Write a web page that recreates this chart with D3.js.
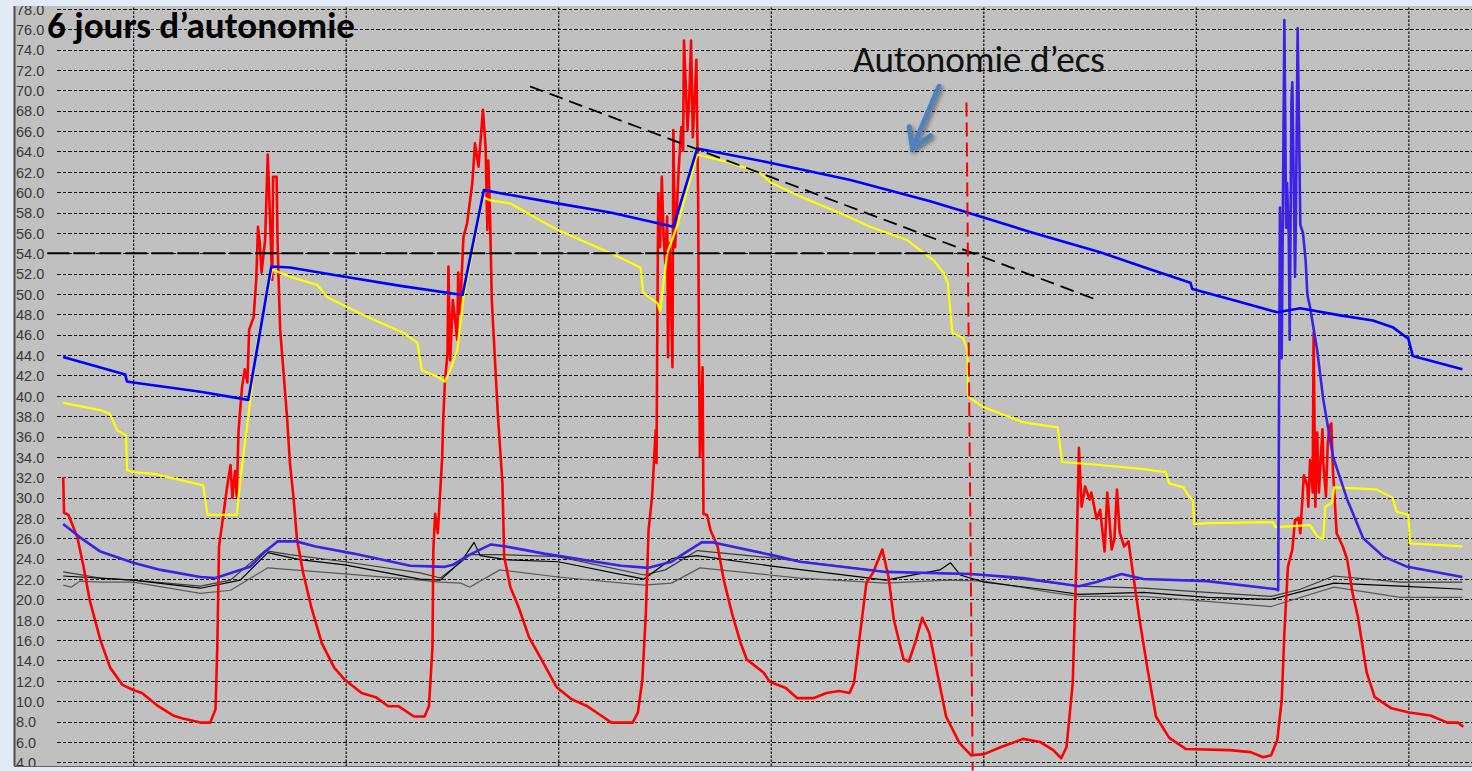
<!DOCTYPE html>
<html><head><meta charset="utf-8">
<script src="https://cdn.jsdelivr.net/npm/d3@7"></script>
<style>
html,body{margin:0;padding:0;background:#e2ebf5;}
svg{display:block;}
</style></head><body>
<svg id="chart" width="1472" height="771"></svg>
<script>
// Time axis: hours counted from the first midnight shown; values in °C.
const tempTicks = d3.range(4, 79, 2);
const midnights = [0, 24, 48, 72, 96, 120, 144];

// Top of the DHW tank
const tankTop = [[-7.9,43.8],[-0.9,42.1],[-0.7,41.4],[0,41.3],[7.6,40.4],[13.0,39.6],[15.6,52.7],[17.7,52.6],[23.9,51.7],[30.2,50.8],[37.2,49.9],[39.6,60.2],[41.5,59.9],[47.9,58.9],[53.9,58.0],[61.0,56.6],[63.7,64.3],[71.9,62.9],[81.0,61.2],[90.0,59.1],[94.2,58.0],[101.3,56.1],[109.2,54.1],[114.9,52.4],[119.4,51.1],[119.6,50.5],[124.2,49.4],[129.2,48.2],[131.8,48.6],[136.3,47.9],[140.0,47.4],[142.3,46.7],[144.0,45.6],[144.5,43.9],[150.1,42.6]];

// Bottom of the DHW tank
const tankBottom = [[-7.9,27.4],[-6.0,26.1],[-3.7,24.7],[0,23.6],[3.1,22.9],[7.6,22.2],[9.3,22.1],[13.2,23.2],[14.9,24.7],[16.3,25.7],[18.4,25.7],[20.6,25.2],[24.9,24.5],[31.3,23.3],[35.2,23.2],[36.1,23.4],[37.8,24.3],[40.4,25.4],[42.1,25.2],[46.4,24.5],[55.1,23.3],[58.2,23.1],[60.8,23.7],[62.0,24.4],[64.2,25.6],[65.5,25.6],[72.4,24.3],[75.3,23.7],[85.0,22.7],[94.6,22.5],[100.5,22.1],[106.8,21.3],[108.8,21.7],[111.6,22.5],[114.1,22.0],[121.3,21.8],[129.1,21.0],[129.3,20.9],[129.5,58.5],[129.7,43.7],[130.0,76.9],[130.2,56.5],[130.3,60.9],[130.5,55.5],[130.6,45.5],[130.8,69.1],[130.9,70.8],[131.2,51.7],[131.3,57.3],[131.5,76.1],[131.8,56.8],[132.1,56.0],[132.4,53.3],[132.6,49.9],[132.9,48.7],[133.7,44.5],[134.4,39.6],[135.5,34.0],[137.1,29.8],[138.9,26.0],[141.2,24.2],[143.9,23.2],[150.1,22.2]];

// Middle of the DHW tank
const tankMiddle = [[-7.9,39.3],[-3.7,38.6],[-2.6,38.2],[-1.8,36.6],[-0.8,36.1],[-0.7,32.7],[0,32.5],[2.5,32.3],[7.9,31.2],[8.4,28.3],[11.7,28.3],[12.1,31.7],[12.9,37.3],[14.0,45.2],[15.7,52.4],[17.7,51.7],[20.8,50.9],[21.9,49.7],[24.2,48.7],[27.1,47.5],[30.5,46.2],[32.1,45.2],[32.6,42.5],[34.3,41.9],[35.2,41.4],[35.8,42.5],[36.6,44.5],[37.3,49.7],[39.5,59.5],[40.3,59.2],[42.6,58.9],[43.4,58.5],[47.9,56.3],[54.2,53.9],[57.3,52.6],[57.6,50.1],[59.2,49.1],[59.5,48.3],[60.3,54.0],[61.4,56.6],[63.7,63.7],[67.4,62.9],[70.8,61.9],[71.9,61.0],[75.0,59.7],[80.2,57.8],[83.2,56.6],[87.4,55.3],[89.2,54.1],[90.4,53.3],[91.5,52.1],[92.0,51.1],[92.5,46.2],[93.7,45.7],[94.2,44.5],[94.3,39.9],[96.0,38.9],[100.5,37.4],[104.4,36.9],[104.9,33.5],[109.2,33.2],[114.1,32.8],[116.6,32.5],[117.0,31.4],[118.6,31.0],[119.0,30.4],[119.7,29.7],[119.8,27.4],[121.3,27.5],[128.7,27.6],[129.0,27.1],[132.9,27.3],[133.8,26.1],[134.4,26.0],[134.6,29.1],[135.4,29.5],[135.6,31.0],[140.4,30.8],[142.2,30.0],[142.7,28.6],[144.0,28.3],[144.2,25.5],[150.1,25.2]];

// Solar collector
const collector = [[-7.9,32.0],[-7.8,28.5],[-7.3,28.3],[-6.3,26.1],[-5.6,23.2],[-4.9,19.9],[-3.7,16.0],[-2.6,13.3],[-1.2,11.6],[0,11.1],[1.0,10.8],[2.7,9.6],[4.5,8.6],[5.6,8.3],[7.6,7.9],[8.7,7.9],[9.3,9.2],[9.5,15.3],[9.7,25.2],[10.2,28.4],[10.6,31.0],[11.0,33.2],[11.2,30.0],[11.5,32.6],[11.7,30.1],[11.9,36.6],[12.3,40.9],[12.6,42.6],[12.9,41.3],[13.1,46.5],[13.6,47.7],[13.9,51.4],[14.1,56.6],[14.3,55.0],[14.5,52.1],[14.9,55.3],[15.2,63.7],[15.5,56.3],[15.7,51.4],[15.8,61.5],[16.2,61.5],[16.3,55.6],[16.4,52.1],[16.6,46.5],[16.9,43.2],[17.4,37.6],[17.7,33.4],[18.1,30.1],[18.5,25.9],[19.2,22.6],[20.1,19.3],[21.3,15.7],[22.7,13.3],[23.9,12.1],[25.8,10.8],[27.4,10.4],[28.8,9.5],[30.0,9.5],[31.7,8.5],[32.9,8.5],[33.4,9.5],[33.8,15.3],[33.9,24.9],[34.1,28.4],[34.4,26.5],[34.9,34.0],[35.0,37.3],[35.2,41.3],[35.5,44.2],[35.6,52.7],[35.8,43.5],[36.1,49.4],[36.6,45.5],[36.7,52.1],[36.9,48.1],[37.3,55.6],[37.7,56.9],[38.3,60.9],[38.6,64.8],[39.0,62.5],[39.5,68.1],[39.8,64.4],[40.0,56.3],[40.1,63.1],[40.3,57.6],[40.5,49.4],[40.9,42.8],[41.2,37.9],[41.7,31.4],[41.9,24.2],[42.6,21.2],[43.5,19.3],[44.7,16.3],[46.1,14.1],[47.8,11.4],[49.5,10.2],[51.3,9.5],[53.0,8.5],[54.0,7.9],[56.4,7.9],[57.0,8.9],[57.5,12.1],[57.9,18.7],[58.2,26.8],[58.6,30.1],[59.0,36.6],[59.1,33.4],[59.2,48.1],[59.3,59.9],[59.5,54.6],[59.7,61.5],[59.9,55.6],[60.1,53.0],[60.3,57.6],[60.4,43.8],[60.6,55.0],[60.9,42.8],[61.0,66.1],[61.2,54.6],[61.6,62.2],[61.9,66.4],[62.1,64.1],[62.2,74.9],[62.6,66.1],[62.8,69.3],[63.0,74.9],[63.2,65.4],[63.6,73.0],[63.8,59.5],[63.9,43.2],[64.0,34.0],[64.3,42.8],[64.4,28.4],[64.8,28.3],[65.2,26.8],[66.0,25.2],[66.7,21.9],[67.6,18.7],[68.6,15.7],[69.3,14.1],[71.2,12.8],[71.9,11.9],[73.7,11.3],[75.0,10.3],[76.8,10.3],[78.3,10.8],[79.7,11.0],[80.9,10.8],[81.4,11.8],[82.1,16.7],[82.8,21.6],[83.6,22.7],[84.0,23.6],[84.6,24.9],[85.3,22.2],[85.9,18.0],[87.0,14.1],[87.6,13.9],[88.4,16.0],[89.1,18.2],[89.9,16.7],[90.8,12.8],[91.8,8.5],[93.3,5.9],[94.6,4.7],[96.1,4.8],[98.0,5.5],[100.5,6.3],[102.4,6.0],[103.9,5.2],[104.8,4.4],[105.4,5.5],[106.1,11.8],[106.5,23.2],[106.8,34.9],[107.1,29.1],[107.5,31.1],[108.0,29.8],[108.2,30.5],[108.8,27.9],[109.2,28.8],[109.7,24.7],[110.0,30.5],[110.5,24.9],[110.8,25.9],[111.1,30.8],[111.4,26.6],[111.9,25.2],[112.4,25.7],[112.8,23.2],[113.6,18.3],[114.5,13.4],[115.5,8.5],[117.0,6.4],[118.9,5.3],[123.8,5.2],[126.2,5.0],[127.6,4.5],[128.5,4.7],[129.2,6.2],[129.7,10.1],[130.0,16.7],[130.4,23.2],[130.9,24.9],[131.2,27.8],[131.6,28.0],[131.8,26.5],[132.2,32.2],[132.6,31.1],[132.7,29.1],[132.9,33.7],[133.2,30.5],[133.3,46.2],[133.5,29.1],[133.7,36.4],[133.9,30.5],[134.3,36.7],[134.4,33.4],[134.7,30.1],[134.9,35.4],[135.1,37.0],[135.3,37.3],[135.5,32.4],[135.6,31.1],[135.9,26.5],[136.6,25.2],[137.1,23.9],[137.7,20.6],[138.3,18.3],[139.3,12.8],[140.2,10.4],[142.1,9.3],[144.1,8.9],[146.5,8.6],[148.4,7.9],[149.6,7.9],[150.2,7.5]];

// Indoor temperatures
const room1 = [[-7.9,22.3],[0,21.9],[7.6,21.1],[12.1,21.9],[15.2,24.6],[18.8,23.9],[23.9,23.4],[32.4,22.0],[34.7,21.9],[37.2,23.9],[38.5,25.6],[39.2,24.3],[42.1,23.9],[48.0,23.7],[57.7,22.0],[60.8,24.0],[63.7,24.3],[71.9,23.3],[85.0,21.9],[91.1,22.9],[92.3,23.6],[93.4,22.4],[96.1,21.7],[103.6,20.9],[106.8,20.5],[114.1,20.7],[121.3,20.2],[128.5,20.0],[135.6,21.6],[143.1,21.3],[150.1,21.0]];
const room2 = [[-7.9,22.7],[-3.7,22.1],[0,21.9],[7.6,21.3],[11.0,21.9],[14.9,24.8],[17.7,24.4],[23.9,23.7],[32.4,22.6],[34.7,22.1],[38.1,24.4],[41.4,24.4],[48.0,24.2],[57.7,22.4],[60.1,22.9],[63.7,24.8],[71.9,24.1],[85.0,22.7],[96.1,22.4],[106.8,21.3],[114.1,21.1],[121.3,20.7],[128.5,20.3],[131.8,21.0],[135.6,22.3],[143.1,21.7],[150.1,21.7]];
const room3 = [[-7.9,21.4],[-7.0,21.2],[-6.0,21.8],[-3.7,21.7],[0,21.7],[7.6,20.6],[11.0,20.9],[15.2,23.1],[23.9,22.5],[32.4,21.9],[34.7,21.7],[37.0,21.6],[38.0,21.2],[41.4,22.9],[48.0,22.2],[57.7,21.4],[60.8,21.6],[64.0,23.1],[71.9,22.4],[75.3,22.1],[85.0,21.6],[92.0,21.9],[96.1,21.8],[103.6,20.7],[106.8,20.3],[114.1,20.3],[121.3,19.8],[128.5,19.3],[135.6,21.2],[143.1,20.2],[150.1,20.2]];

// Annotations
const dhwThreshold = 54;
const trendLine = [[44.8,70.4],[108.6,49.5]];
const autonomyEnd = [[94.1,68.8],[94.8,3.2]];
const arrowTail = [91.0,70.4], arrowTip = [88.0,64.3];

const plot = {left: 14, top: 6, right: 1472, bottom: 766};
const svg = d3.select('#chart');

const x = d3.scaleLinear().domain([-8.6, 151.3]).range([57, 1473]);
const y = d3.scaleLinear().domain([4, 76]).range([762.3, 29.3]);

const defs = svg.append('defs');
defs.append('clipPath').attr('id','plotClip').append('rect')
  .attr('x', plot.left).attr('y', plot.top).attr('width', plot.right-plot.left).attr('height', plot.bottom-plot.top);
const shadow = defs.append('filter').attr('id','arrowShadow').attr('x','-50%').attr('y','-50%').attr('width','200%').attr('height','200%');
shadow.append('feGaussianBlur').attr('in','SourceAlpha').attr('stdDeviation',2).attr('result','b');
shadow.append('feOffset').attr('in','b').attr('dx',2).attr('dy',2).attr('result','o');
shadow.append('feComponentTransfer').attr('in','o').attr('result','s').append('feFuncA').attr('type','linear').attr('slope',0.45);
const fm = shadow.append('feMerge');
fm.append('feMergeNode').attr('in','s');
fm.append('feMergeNode').attr('in','SourceGraphic');

// plot background
svg.append('rect').attr('x', plot.left).attr('y', plot.top)
  .attr('width', plot.right-plot.left).attr('height', plot.bottom-plot.top).attr('fill', '#c0c0c0');

const g = svg.append('g').attr('clip-path','url(#plotClip)');

// horizontal grid + labels
const yAxis = d3.axisLeft(y).tickValues(tempTicks).tickFormat(d3.format('.1f'))
  .tickSize(-(plot.right - 57)).tickPadding(0);
const ya = g.append('g').attr('transform','translate(57,0)').call(yAxis);
ya.select('.domain').remove();
ya.selectAll('.tick line').attr('stroke','#111').attr('stroke-width',1).attr('stroke-dasharray','3.5,2').attr('shape-rendering','crispEdges');
ya.selectAll('.tick text').attr('x', 16-57).attr('text-anchor','start').attr('dy','0.36em')
  .attr('fill','#383838').style('font-family','"Liberation Sans", Arial, sans-serif').style('font-size','14.5px');

// vertical grid (midnights)
const xAxis = d3.axisBottom(x).tickValues(midnights).tickFormat('').tickSize(-(plot.bottom-plot.top));
const xa = g.append('g').attr('transform',`translate(0,${plot.bottom})`).call(xAxis);
xa.select('.domain').remove();
xa.selectAll('.tick line').attr('stroke','#111').attr('stroke-width',1.2).attr('stroke-dasharray','2.5,1.5');

const line = d3.line().x(d => x(d[0])).y(d => y(d[1]));

// series
const series = [
  {data: room3, color: '#5a5a5a', w: 1.2},
  {data: room2, color: '#3c3c3c', w: 1.2},
  {data: room1, color: '#000000', w: 1.2},
  {data: collector, color: '#ff0000', w: 2.6},
  {data: tankMiddle, color: '#ffff00', w: 2.2},
  {data: tankBottom, color: '#3a22e6', w: 2.6},
  {data: tankTop, color: '#0000ff', w: 2.6}
];
series.forEach(s => {
  g.append('path').datum(s.data).attr('d', line).attr('fill','none')
    .attr('stroke', s.color).attr('stroke-width', s.w).attr('stroke-linejoin','round');
});

// 54 °C threshold
g.append('path').datum([[-9.7, dhwThreshold],[96.3, dhwThreshold]]).attr('d', line)
  .attr('fill','none').attr('stroke','#000').attr('stroke-width',2).attr('stroke-dasharray','22,4');
// cooling trend
g.append('path').datum(trendLine).attr('d', line)
  .attr('fill','none').attr('stroke','#000').attr('stroke-width',1.8).attr('stroke-dasharray','14,7');

// end of autonomy marker (runs below the frame)
svg.append('path').datum(autonomyEnd).attr('d', line)
  .attr('fill','none').attr('stroke','#ff0000').attr('stroke-width',2).attr('stroke-dasharray','14,6');

// frame
svg.append('line').attr('x1',14.5).attr('x2',14.5).attr('y1',plot.top).attr('y2',plot.bottom)
  .attr('stroke','#505050').attr('stroke-width',2);
svg.append('line').attr('x1',plot.left).attr('x2',plot.right).attr('y1',plot.bottom+0.5).attr('y2',plot.bottom+0.5)
  .attr('stroke','#606060').attr('stroke-width',1);

// arrow
const ax0 = x(arrowTail[0]), ay0 = y(arrowTail[1]), ax1 = x(arrowTip[0]), ay1 = y(arrowTip[1]);
const ang = Math.atan2(ay1-ay0, ax1-ax0), hl = 22, spread = 0.55;
const w1 = [ax1 - hl*Math.cos(ang-spread), ay1 - hl*Math.sin(ang-spread)];
const w2 = [ax1 - hl*Math.cos(ang+spread), ay1 - hl*Math.sin(ang+spread)];
svg.append('path')
  .attr('d', `M${ax0},${ay0}L${ax1},${ay1}M${w1[0]},${w1[1]}L${ax1},${ay1}L${w2[0]},${w2[1]}`)
  .attr('fill','none').attr('stroke','#4f81bd').attr('stroke-width',5).attr('stroke-linecap','round')
  .attr('stroke-linejoin','miter').attr('filter','url(#arrowShadow)');

// texts
function fitText(sel, width) {
  const fs = parseFloat(sel.style('font-size'));
  const w = sel.node().getComputedTextLength();
  sel.style('font-size', (fs*width/w).toFixed(2)+'px');
}
const title = svg.append('text').attr('x',47).attr('y',38).text('6 jours d’autonomie')
  .style('font-family','Carlito, Lato, "Open Sans", sans-serif').style('font-weight','700').style('font-size','30px').attr('fill','#000');
fitText(title, 308);
const note = svg.append('text').attr('x',853).attr('y',72).text('Autonomie d’ecs')
  .style('font-family','Carlito, Lato, "Open Sans", sans-serif').style('font-weight','400').style('font-size','32px').attr('fill','#111');
fitText(note, 252);
</script>
</body></html>
